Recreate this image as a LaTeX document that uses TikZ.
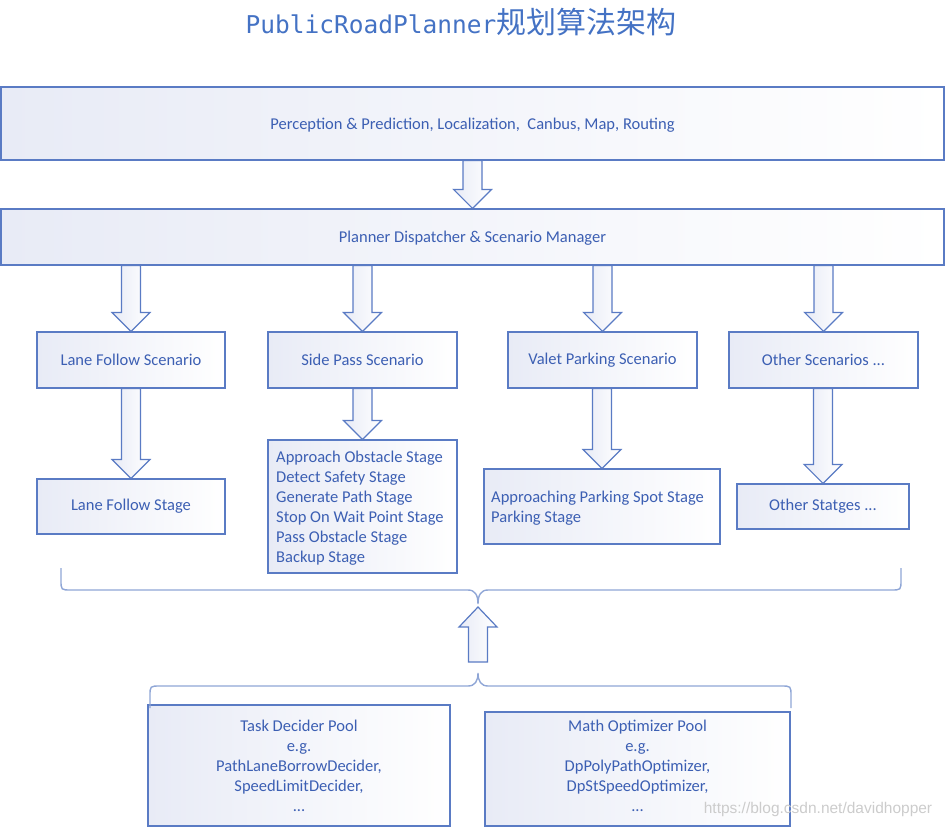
\documentclass[tikz,border=0pt]{standalone}
\usepackage{fontspec}
\setmainfont{Carlito}
\newfontfamily\cjkfont{Noto Sans CJK SC}
\newfontfamily\titlemono{DejaVu Sans Mono}
\newfontfamily\wmfont{Liberation Sans}
\usetikzlibrary{calc}
\definecolor{bordc}{HTML}{5A7BC4}
\definecolor{txtc}{HTML}{3C5FB3}
\definecolor{fillc}{HTML}{E8EBF6}
\definecolor{bracec}{HTML}{8FA6D6}
\definecolor{titlec}{HTML}{4472C4}
\newcommand\darrow[2]{%
  \path[blockarrow] let \p1=(#2.north), \p2=(#1.south) in
    ({\x1-9.5pt},\y2) -- ({\x1+9.5pt},\y2) -- ({\x1+9.5pt},{\y1+19pt}) --
    ({\x1+19pt},{\y1+19pt}) -- (\x1,\y1) -- ({\x1-19pt},{\y1+19pt}) --
    ({\x1-9.5pt},{\y1+19pt}) -- cycle;}
\begin{document}
\begin{tikzpicture}[x=1pt,y=-1pt,
  box/.style={draw=bordc, line width=1.2pt, left color=fillc, right color=white,
    text=txtc, font=\fontsize{16.5}{20}\selectfont, inner sep=0pt, align=center},
  txt/.style={text=txtc, font=\fontsize{16.5}{20}\selectfont, inner sep=0pt, align=center},
  listtxt/.style={txt, align=left, anchor=west},
  blockarrow/.style={draw=bordc, line width=1.2pt, left color=fillc, right color=white, line join=miter},
  bracestyle/.style={draw=bracec, line width=1.4pt}]
\useasboundingbox (0,0) rectangle (946,828);

\node[text=titlec, inner sep=0pt] (title) at (461,22)
  {\titlemono\fontsize{24.5}{30}\selectfont PublicRoadPlanner\cjkfont\fontsize{30}{30}\selectfont 规划算法架构};

\node[box, minimum width=943, minimum height=73] (top) at (472.5,123.5) {};
\node[txt] (toptxt) at (472.5,125)
  {Perception \& Prediction, Localization,\ \ Canbus, Map, Routing};
\node[box, minimum width=943, minimum height=56] (disp) at (472.5,237) {};
\node[txt] (disptxt) at (472.5,238) {Planner Dispatcher \& Scenario Manager};

\node[box, minimum width=188, minimum height=56] (lfs) at (131,360) {Lane Follow Scenario};
\node[box, minimum width=189, minimum height=56] (sps) at (362.5,360) {Side Pass Scenario};
\node[box, minimum width=189, minimum height=56] (vps) at (602.5,360) {Valet Parking Scenario};
\node[box, minimum width=189, minimum height=56] (os) at (823.5,360) {Other Scenarios ...};

\node[box, minimum width=188, minimum height=55] (lfst) at (131,506.5) {Lane Follow Stage};
\node[box, minimum width=189, minimum height=133] (spst) at (362.5,506.5) {};
\node[listtxt] (spsttxt) at (276,508)
  {Approach Obstacle Stage\\Detect Safety Stage\\Generate Path Stage\\Stop On Wait Point Stage\\Pass Obstacle Stage\\Backup Stage};
\node[box, minimum width=236, minimum height=75] (vpst) at (602,506.5) {};
\node[listtxt] (vpsttxt) at (491,508) {Approaching Parking Spot Stage\\Parking Stage};
\node[box, minimum width=172, minimum height=45] (ost) at (823,506.5) {Other Statges ...};

\node[box, minimum width=302, minimum height=121] (tdp) at (299,765.5)
  {Task Decider Pool\\e.g.\\PathLaneBorrowDecider,\\SpeedLimitDecider,\\...};
\node[box, minimum width=305, minimum height=114] (mop) at (637.5,769) {};
\node[txt] (moptxt) at (637.5,765.5)
  {Math Optimizer Pool\\e.g.\\DpPolyPathOptimizer,\\DpStSpeedOptimizer,\\...};

\darrow{top}{disp}
\darrow{disp}{lfs}
\darrow{disp}{sps}
\darrow{disp}{vps}
\darrow{disp}{os}
\darrow{lfs}{lfst}
\darrow{sps}{spst}
\darrow{vps}{vpst}
\darrow{os}{ost}

% braces
\coordinate (cuspA) at (478,604);
\coordinate (cuspB) at (478,673);
\draw[bracestyle] (61,568) -- (61,580) .. controls (61,590) .. (71,590) -- (468,590)
  .. controls (475,590) and (478,595) .. (cuspA)
  .. controls (478,595) and (481,590) .. (488,590) -- (891,590)
  .. controls (901,590) .. (901,580) -- (901,568);
\draw[bracestyle] (150,708) -- (150,696) .. controls (150,686) .. (160,686) -- (468,686)
  .. controls (475,686) and (478,681) .. (cuspB)
  .. controls (478,681) and (481,686) .. (488,686) -- (781,686)
  .. controls (791,686) .. (791,696) -- (791,708);

% up arrow
\coordinate (atip) at (478,607);
\coordinate (abase) at (478,662);
\path[blockarrow] let \p1=(atip), \p2=(abase) in
  ({\x1-9.5pt},\y2) -- ({\x1+9.5pt},\y2) -- ({\x1+9.5pt},{\y1-20pt}) --
  ({\x1+19pt},{\y1-20pt}) -- (\x1,\y1) -- ({\x1-19pt},{\y1-20pt}) --
  ({\x1-9.5pt},{\y1-20pt}) -- cycle;

\node[text=gray!40, inner sep=0pt, font=\wmfont\fontsize{15.5}{18}\selectfont] (wm) at (818,809)
  {https://blog.csdn.net/davidhopper};
\end{tikzpicture}
\end{document}
